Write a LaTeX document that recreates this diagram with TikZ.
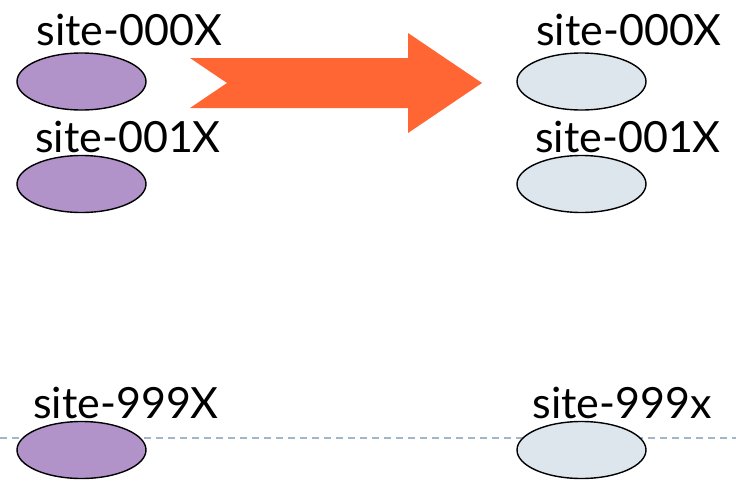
\documentclass[tikz,border=0pt]{standalone}
\usepackage{fontspec}
\setmainfont{Lato}
\usetikzlibrary{shapes.geometric}
\definecolor{oldsite}{HTML}{B192C9}
\definecolor{newsite}{HTML}{DCE6EC}
\definecolor{migrate}{HTML}{FF6633}
\definecolor{divider}{HTML}{A3B6C8}
\tikzset{
  site/.style={ellipse, draw=black, line width=1.4pt, minimum width=129pt, minimum height=57pt, inner sep=0pt},
  oldnode/.style={site, fill=oldsite},
  newnode/.style={site, fill=newsite},
  sitelabel/.style={anchor=base, inner sep=0pt, font=\fontsize{43}{46}\selectfont},
}
\begin{document}
\begin{tikzpicture}[x=1pt, y=-1pt]
\useasboundingbox (0,0) rectangle (736,480);

% dashed divider behind the lower row
\coordinate (dl) at (0,438);
\coordinate (dr) at (736,438);
\draw[divider, line width=1.2pt, dash pattern=on 7pt off 5pt] (dl) -- (dr);

% source sites
\node[sitelabel] (la) at (129.5,45) {site-000X};
\node[oldnode] (oa) at (81.5,81.5) {};
\node[sitelabel] (lb) at (128,152) {site-001X};
\node[oldnode] (ob) at (81.5,184) {};
\node[sitelabel] (lc) at (126,418) {site-999X};
\node[oldnode] (oc) at (81.5,450) {};

% target sites
\node[sitelabel] (ra) at (629,45) {site-000X};
\node[newnode] (na) at (581.5,81.5) {};
\node[sitelabel] (rb) at (628,152) {site-001X};
\node[newnode] (nb) at (581.5,184) {};
\node[sitelabel] (rc) at (622,418) {site-999x};
\node[newnode] (nc) at (581.5,450) {};

% migration arrow
\fill[migrate] (190,58) -- (408,58) -- (408,33) -- (482,83) -- (408,133)
  -- (408,108) -- (190,108) -- (227,83) -- cycle;
\end{tikzpicture}
\end{document}
